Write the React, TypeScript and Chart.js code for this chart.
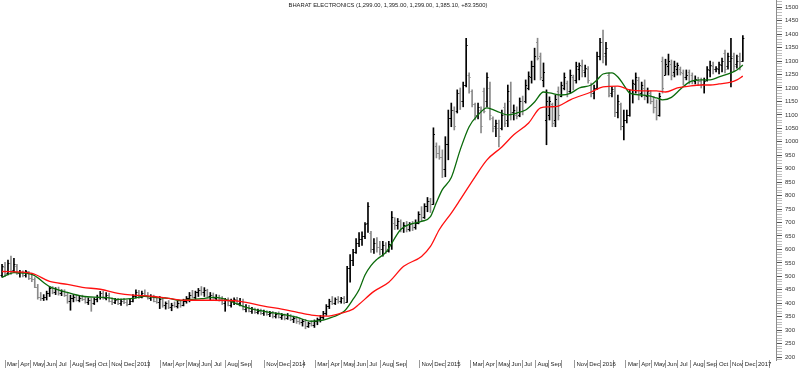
import { useEffect, useRef } from 'react';
import { Chart, registerables } from 'chart.js';

Chart.register(...registerables);

const TITLE = 'BHARAT ELECTRONICS (1,299.00, 1,395.00, 1,299.00, 1,385.10, +83.3500)';

// Weekly bars, first week ending 2012-02-23
const opens = [
  505, 535, 512, 548, 522, 540, 512, 515, 505, 515,
  495, 490, 462, 425, 418, 425, 438, 455, 440, 452,
  438, 445, 430, 410, 420, 425, 412, 420, 415, 405,
  412, 400, 415, 425, 438, 420, 432, 410, 405, 412,
  400, 410, 405, 398, 410, 428, 440, 425, 438, 430,
  420, 428, 410, 405, 415, 392, 400, 385, 395, 390,
  402, 395, 410, 418, 432, 425, 440, 448, 440, 450,
  428, 432, 420, 425, 415, 400, 412, 395, 408, 415,
  400, 410, 380, 385, 372, 378, 368, 372, 365, 370,
  360, 365, 352, 360, 350, 355, 345, 355, 340, 345,
  335, 330, 335, 315, 325, 320, 335, 340, 350, 362,
  388, 408, 402, 415, 408, 418, 405, 530, 560, 590,
  625, 640, 650, 700, 660, 600, 625, 610, 600, 615,
  595, 620, 700, 690, 705, 680, 690, 675, 695, 685,
  700, 730, 720, 760, 780, 770, 985, 960, 945, 900,
  990, 1090, 1120, 1115, 1180, 1150, 1210, 1250, 1190, 1140,
  1100, 1120, 1190, 1150, 1200, 1090, 1060, 1050, 1050, 1130,
  1080, 1150, 1110, 1100, 1100, 1150, 1150, 1200, 1240, 1280,
  1370, 1320, 1230, 1080, 1100, 1140, 1080, 1190, 1170, 1200,
  1220, 1190, 1240, 1230, 1270, 1280, 1260, 1270, 1210, 1180,
  1200, 1320, 1370, 1330, 1250, 1180, 1190, 1110, 1140, 1060,
  1080, 1100, 1180, 1215, 1230, 1180, 1200, 1170, 1180, 1150,
  1130, 1100, 1300, 1250, 1280, 1290, 1260, 1270, 1270, 1255,
  1240, 1260, 1250, 1225, 1230, 1225, 1215, 1230, 1265, 1280,
  1270, 1270, 1285, 1330, 1280, 1300, 1320, 1290, 1320, 1299,
];
const highs = [
  545, 552, 560, 575, 567, 545, 522, 520, 522, 518,
  512, 495, 470, 440, 432, 445, 462, 462, 458, 460,
  450, 450, 440, 430, 432, 430, 428, 430, 425, 420,
  418, 420, 430, 444, 445, 440, 438, 420, 418, 418,
  415, 418, 412, 415, 432, 450, 448, 445, 450, 440,
  432, 430, 420, 425, 418, 405, 410, 400, 405, 408,
  410, 415, 425, 440, 448, 445, 455, 462, 458, 452,
  440, 438, 432, 430, 425, 418, 420, 415, 420, 422,
  418, 415, 395, 392, 385, 382, 378, 378, 375, 372,
  370, 370, 365, 368, 362, 360, 362, 358, 352, 350,
  345, 340, 340, 330, 335, 338, 345, 355, 370, 395,
  415, 425, 420, 425, 422, 425, 537, 581, 600, 640,
  663, 665, 700, 774, 667, 640, 644, 630, 630, 625,
  630, 741, 718, 715, 710, 700, 704, 700, 704, 710,
  740, 759, 770, 793, 790, 1052, 996, 985, 970, 1019,
  1118, 1144, 1130, 1193, 1200, 1222, 1385, 1256, 1193, 1144,
  1144, 1130, 1200, 1256, 1222, 1093, 1081, 1081, 1118, 1144,
  1211, 1222, 1137, 1130, 1163, 1170, 1230, 1260, 1300, 1348,
  1385, 1330, 1293, 1193, 1167, 1144, 1174, 1204, 1222, 1256,
  1226, 1267, 1248, 1296, 1293, 1304, 1285, 1280, 1218, 1211,
  1333, 1385, 1415, 1370, 1256, 1204, 1204, 1174, 1144, 1118,
  1118, 1193, 1230, 1256, 1240, 1222, 1230, 1200, 1190, 1167,
  1156, 1181, 1315, 1307, 1326, 1304, 1300, 1293, 1278, 1267,
  1267, 1267, 1256, 1245, 1240, 1237, 1237, 1280, 1300, 1296,
  1280, 1296, 1311, 1341, 1330, 1385, 1330, 1322, 1330, 1395,
];
const lows = [
  497, 500, 505, 507, 515, 507, 497, 498, 497, 488,
  480, 458, 415, 410, 410, 412, 425, 435, 432, 430,
  428, 425, 400, 374, 405, 408, 405, 410, 400, 395,
  370, 395, 405, 415, 415, 412, 405, 395, 398, 395,
  392, 398, 390, 395, 405, 420, 418, 420, 425, 415,
  410, 405, 400, 380, 385, 378, 380, 372, 385, 382,
  385, 390, 400, 405, 420, 415, 425, 430, 425, 420,
  412, 415, 410, 408, 395, 370, 390, 385, 395, 395,
  390, 375, 368, 368, 362, 362, 360, 358, 355, 355,
  350, 345, 345, 345, 340, 338, 340, 335, 328, 325,
  322, 315, 305, 310, 315, 310, 320, 330, 340, 355,
  380, 395, 395, 400, 400, 398, 403, 478, 540, 585,
  610, 615, 640, 663, 589, 585, 590, 580, 575, 585,
  590, 600, 674, 675, 665, 663, 665, 668, 670, 675,
  695, 705, 715, 740, 737, 767, 940, 935, 867, 870,
  933, 1056, 1044, 1107, 1120, 1130, 1204, 1181, 1130, 1081,
  1085, 1033, 1107, 1130, 1081, 1037, 1019, 981, 1044, 1056,
  1056, 1081, 1081, 1085, 1093, 1100, 1144, 1193, 1218, 1230,
  1304, 1230, 1204, 989, 1081, 1056, 1056, 1081, 1167, 1193,
  1167, 1181, 1193, 1218, 1230, 1241, 1241, 1218, 1167, 1159,
  1195, 1304, 1293, 1285, 1167, 1167, 1093, 1089, 1044, 1007,
  1070, 1095, 1144, 1181, 1156, 1167, 1156, 1144, 1141, 1107,
  1081, 1095, 1181, 1248, 1248, 1230, 1241, 1248, 1248, 1211,
  1230, 1215, 1215, 1215, 1210, 1200, 1181, 1225, 1241, 1252,
  1260, 1252, 1260, 1256, 1270, 1204, 1263, 1274, 1267, 1299,
];
const closes = [
  540, 510, 550, 520, 545, 512, 515, 505, 518, 495,
  490, 462, 425, 418, 425, 438, 455, 440, 452, 438,
  445, 430, 410, 420, 425, 412, 420, 415, 405, 412,
  400, 415, 425, 438, 420, 432, 410, 405, 412, 400,
  410, 405, 398, 410, 428, 440, 425, 438, 430, 420,
  428, 410, 405, 415, 392, 400, 385, 395, 390, 402,
  395, 410, 418, 432, 425, 440, 448, 440, 450, 428,
  432, 420, 425, 415, 400, 412, 395, 408, 415, 400,
  410, 380, 385, 372, 378, 368, 372, 365, 370, 360,
  365, 352, 360, 350, 355, 345, 355, 340, 345, 335,
  330, 335, 315, 325, 320, 335, 340, 350, 362, 388,
  408, 402, 415, 408, 418, 405, 530, 560, 590, 625,
  640, 650, 695, 760, 600, 625, 610, 600, 615, 595,
  620, 720, 690, 705, 680, 690, 675, 695, 685, 700,
  730, 720, 760, 780, 770, 1030, 960, 945, 900, 990,
  1090, 1120, 1060, 1180, 1150, 1210, 1360, 1240, 1140, 1100,
  1130, 1060, 1115, 1240, 1100, 1050, 1070, 1020, 1100, 1070,
  1190, 1110, 1120, 1095, 1150, 1120, 1210, 1245, 1280, 1320,
  1310, 1240, 1260, 1150, 1150, 1070, 1160, 1100, 1210, 1240,
  1190, 1250, 1230, 1280, 1285, 1265, 1275, 1230, 1180, 1200,
  1320, 1370, 1320, 1350, 1175, 1195, 1110, 1150, 1060, 1080,
  1100, 1180, 1220, 1240, 1180, 1210, 1170, 1190, 1150, 1130,
  1100, 1170, 1200, 1290, 1300, 1250, 1280, 1285, 1260, 1240,
  1250, 1225, 1230, 1235, 1225, 1215, 1225, 1270, 1285, 1270,
  1275, 1290, 1300, 1270, 1320, 1310, 1280, 1300, 1302, 1385.1,
];

// Moving averages read at selected weeks (week index -> value)
const greenWeeks = [0, 4, 10, 16, 22, 27, 33, 36, 39, 44, 48, 51, 56, 60, 63, 67, 71, 74, 82, 88, 94, 99, 104, 108, 111, 115, 118, 120, 122, 124, 126, 129, 134, 137, 141, 144, 146, 148, 151, 154, 157, 160, 163, 166, 170, 173, 176, 179, 182, 184, 188, 191, 194, 198, 200, 202, 205, 207, 209, 211, 215, 218, 220, 222, 225, 228, 231, 235, 238, 241, 245, 247, 249];
const greenValues = [496, 514, 507, 462, 440, 426, 422, 420, 414, 418, 426, 422, 418, 410, 414, 417, 422, 418, 385, 370, 359, 348, 333, 337, 348, 370, 415, 450, 505, 540, 563, 589, 674, 693, 704, 722, 774, 822, 867, 970, 1056, 1100, 1126, 1115, 1100, 1107, 1118, 1148, 1185, 1182, 1174, 1180, 1200, 1211, 1230, 1252, 1256, 1241, 1211, 1181, 1174, 1170, 1163, 1156, 1165, 1195, 1222, 1230, 1230, 1241, 1256, 1267, 1285];
const redWeeks = [0, 10, 16, 22, 27, 33, 39, 44, 50, 56, 61, 67, 71, 80, 88, 94, 99, 104, 109, 114, 118, 120, 125, 130, 135, 141, 144, 147, 151, 154, 159, 163, 168, 172, 177, 181, 184, 187, 191, 198, 202, 207, 211, 215, 220, 223, 227, 231, 235, 238, 241, 245, 247, 249];
const redValues = [518, 511, 481, 470, 459, 452, 437, 430, 426, 418, 411, 411, 411, 407, 389, 378, 367, 356, 352, 363, 378, 396, 444, 478, 537, 574, 611, 674, 735, 785, 870, 933, 981, 1026, 1070, 1126, 1130, 1133, 1156, 1185, 1204, 1207, 1193, 1189, 1189, 1185, 1200, 1207, 1211, 1211, 1215, 1222, 1230, 1244];

// Month tick labels, Mar 2012 .. Feb 2017 ('' = month boundary without label)
const monthLabels = [
  'Mar', 'Apr', 'May', 'Jun', 'Jul', 'Aug', 'Sep', 'Oct', 'Nov', 'Dec',
  '2013', '', 'Mar', 'Apr', 'May', 'Jun', 'Jul', 'Aug', 'Sep', '', 'Nov', 'Dec',
  '2014', '', 'Mar', 'Apr', 'May', 'Jun', 'Jul', 'Aug', 'Sep', '', 'Nov', 'Dec',
  '2015', '', 'Mar', 'Apr', 'May', 'Jun', 'Jul', 'Aug', 'Sep', '', 'Nov', 'Dec',
  '2016', '', 'Mar', 'Apr', 'May', 'Jun', 'Jul', 'Aug', 'Sep', 'Oct', 'Nov', 'Dec',
  '2017', '',
];

const DAY_MS = 86400000;
const ORIGIN = Date.UTC(2012, 2, 1);
const dayOf = (y: number, m: number, d: number) => (Date.UTC(y, m, d) - ORIGIN) / DAY_MS;
const barDay = (i: number) => dayOf(2012, 1, 23) + 7 * i;
const monthStarts = monthLabels.map((_, k) => dayOf(2012, 2 + k, 1));

const UP = '#000000';
const DOWN = '#8a8a8a';
const barColor = (i: number) => (closes[i] >= opens[i] ? UP : DOWN);
const FONT = 'Liberation Sans, Arial, sans-serif';

const ohlcTicks = {
  id: 'ohlcTicks',
  afterDatasetDraw(chart: any, args: any) {
    if (args.index !== 0) return;
    const { ctx, scales } = chart;
    const x = scales.x;
    const y = scales.y;
    ctx.save();
    ctx.lineWidth = 1;
    for (let i = 0; i < closes.length; i++) {
      const px = x.getPixelForValue(barDay(i));
      const yo = Math.round(y.getPixelForValue(opens[i])) + 0.5;
      const yc = Math.round(y.getPixelForValue(closes[i])) + 0.5;
      ctx.strokeStyle = barColor(i);
      ctx.beginPath();
      ctx.moveTo(px - 1.5, yo);
      ctx.lineTo(px, yo);
      ctx.moveTo(px, yc);
      ctx.lineTo(px + 1.5, yc);
      ctx.stroke();
    }
    ctx.restore();
  },
};

export default function App() {
  const ref = useRef<HTMLCanvasElement>(null);
  useEffect(() => {
    const chart = new Chart(ref.current as HTMLCanvasElement, {
      type: 'bar',
      data: {
        datasets: [
          {
            type: 'bar',
            label: 'OHLC',
            data: highs.map((h, i) => ({ x: barDay(i), y: [lows[i], h] })) as any,
            backgroundColor: closes.map((_, i) => barColor(i)),
            borderWidth: 0,
            barThickness: 1,
            grouped: false,
            order: 2,
          } as any,
          {
            type: 'line',
            label: 'MA short',
            data: greenWeeks.map((w, k) => ({ x: barDay(w), y: greenValues[k] })),
            borderColor: '#0b6b0b',
            borderWidth: 1.3,
            pointRadius: 0,
            cubicInterpolationMode: 'monotone',
            order: 1,
          } as any,
          {
            type: 'line',
            label: 'MA long',
            data: redWeeks.map((w, k) => ({ x: barDay(w), y: redValues[k] })),
            borderColor: '#ff1010',
            borderWidth: 1.3,
            pointRadius: 0,
            cubicInterpolationMode: 'monotone',
            order: 0,
          } as any,
        ],
      },
      options: {
        animation: false,
        responsive: false,
        devicePixelRatio: 1,
        events: [],
        layout: { padding: 0, autoPadding: false },
        plugins: {
          legend: { display: false },
          tooltip: { enabled: false },
          title: {
            display: true,
            text: TITLE,
            position: 'top',
            align: 'center',
            fullSize: false,
            color: '#222',
            font: { size: 5.8, family: FONT, weight: 'normal' },
            padding: { top: 1.6, bottom: -(5.8 * 1.2 + 1.6) },
          },
        },
        scales: {
          x: {
            type: 'linear',
            min: -11.8,
            max: 1814,
            offset: false,
            border: { display: false },
            grid: { drawOnChartArea: false, drawTicks: true, tickLength: 8, tickColor: '#9a9a9a', offset: false },
            ticks: {
              autoSkip: false,
              maxRotation: 0,
              minRotation: 0,
              align: 'start',
              padding: -7,
              labelOffset: 2,
              color: '#222',
              font: { size: 6, family: FONT },
              callback: (_v: any, i: number) => monthLabels[i] ?? '',
            },
            afterBuildTicks: (s: any) => {
              s.ticks = monthStarts.map((v) => ({ value: v }));
            },
            afterFit: (s: any) => {
              s.height = 8;
              s.paddingLeft = 0;
              s.paddingRight = 0;
            },
          } as any,
          y: {
            type: 'linear',
            position: 'right',
            min: 189,
            max: 1527,
            beginAtZero: false,
            border: { display: true, color: '#8c8c8c', width: 1 },
            grid: {
              drawOnChartArea: false,
              drawTicks: true,
              tickLength: 6,
              tickColor: (c: any) => (c.tick && c.tick.value % 50 === 0 ? '#555' : '#bdbdbd'),
            },
            ticks: {
              autoSkip: false,
              padding: 3,
              color: '#333',
              font: { size: 6, family: FONT },
              callback: (v: any) => (Number(v) % 50 === 0 ? String(v) : ''),
            },
            afterBuildTicks: (s: any) => {
              const t = [];
              for (let v = 190; v <= 1520; v += 10) t.push({ value: v });
              s.ticks = t;
            },
            afterFit: (s: any) => {
              s.width = 24;
              s.paddingTop = 0;
              s.paddingBottom = 0;
            },
          } as any,
        },
      } as any,
      plugins: [ohlcTicks],
    });
    return () => chart.destroy();
  }, []);

  return (
    <div style={{ position: 'fixed', left: 0, top: 0, width: 800, height: 368, background: '#fff' }}>
      <canvas ref={ref} width={800} height={368} style={{ display: 'block' }} />
    </div>
  );
}
